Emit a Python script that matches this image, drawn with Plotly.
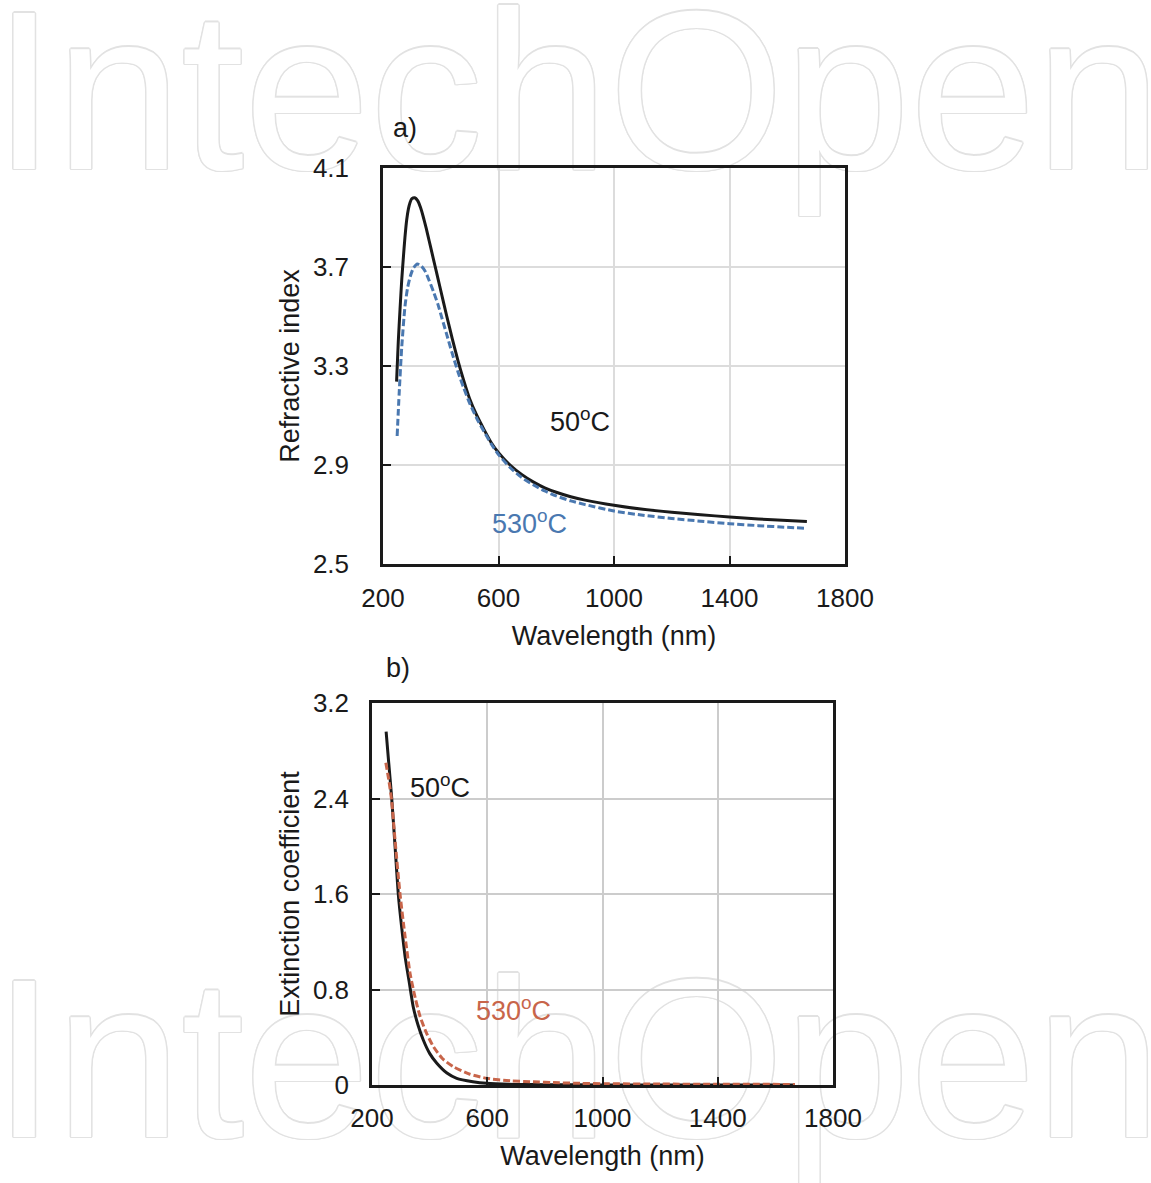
import plotly.graph_objects as go

# ---- Refractive index (a) ----
wl_n_50 = [247, 253, 259, 265, 270, 276, 282, 288, 294, 300, 310, 320, 330, 340, 350,
           360, 370, 380, 390, 400, 420, 440, 460, 480, 500, 525, 550, 575, 600, 640,
           680, 720, 760, 800, 850, 900, 1000, 1100, 1200, 1300, 1400, 1500, 1600, 1668]
n_50 = [3.237, 3.40, 3.53, 3.65, 3.73, 3.82, 3.89, 3.935, 3.962, 3.976, 3.98, 3.968,
        3.94, 3.90, 3.855, 3.805, 3.755, 3.705, 3.655, 3.605, 3.505, 3.41, 3.32, 3.24,
        3.168, 3.10, 3.043, 2.99, 2.95, 2.90, 2.862, 2.832, 2.808, 2.79, 2.772, 2.758,
        2.737, 2.721, 2.709, 2.699, 2.69, 2.682, 2.676, 2.672]

wl_n_530 = [249, 256, 265, 276, 285, 294, 305, 319, 333, 345, 360, 375, 390, 405, 420,
            440, 460, 480, 500, 525, 550, 575, 600, 640, 680, 720, 760, 800, 850, 900,
            1000, 1100, 1200, 1300, 1400, 1500, 1600, 1668]
n_530 = [3.017, 3.19, 3.378, 3.54, 3.615, 3.66, 3.695, 3.712, 3.703, 3.685, 3.645,
         3.60, 3.55, 3.49, 3.43, 3.35, 3.275, 3.21, 3.15, 3.088, 3.035, 2.985, 2.942,
         2.89, 2.85, 2.82, 2.795, 2.775, 2.755, 2.74, 2.714, 2.697, 2.684, 2.673,
         2.663, 2.655, 2.648, 2.644]

# ---- Extinction coefficient (b) ----
wl_k_50 = [249, 258, 268, 280, 291, 303, 315, 330, 343, 360, 378, 400, 425, 460, 494,
           550, 598, 700, 800, 1000, 1200, 1400, 1668]
k_50 = [2.96, 2.70, 2.415, 2.00, 1.606, 1.32, 1.075, 0.85, 0.656, 0.50, 0.377, 0.265,
        0.182, 0.10, 0.056, 0.028, 0.014, 0.005, 0.002, 0.001, 0.0, 0.0, 0.0]

wl_k_530 = [248, 258, 268, 280, 297, 315, 332, 350, 367, 390, 413, 445, 482, 540, 598,
            680, 749, 850, 922, 1000, 1200, 1400, 1668]
k_530 = [2.70, 2.56, 2.388, 2.05, 1.606, 1.24, 0.936, 0.73, 0.573, 0.43, 0.322, 0.22,
         0.154, 0.09, 0.056, 0.035, 0.028, 0.018, 0.014, 0.011, 0.008, 0.006, 0.005]

n_ticks = [2.5, 2.9, 3.3, 3.7, 4.1]
k_ticks = [0, 0.8, 1.6, 2.4, 3.2]
k_tick_text = ["0", "0.8", "1.6", "2.4", "3.2"]
wl_ticks = [200, 600, 1000, 1400, 1800]

watermark = "IntechOpen"

W, H = 1151, 1183
BLACK = "#1a1a1a"
BLUE = "#4a78b0"
RED = "#c8654a"
FONT = "Liberation Sans, Arial, Helvetica, sans-serif"

fig = go.Figure()

# Outlined watermark text on a full-page canvas drawn beneath the charts
wm_col = "#e2e2e2"
offs = [(1.5, 0), (-1.5, 0), (0, 1.5), (0, -1.5), (1, 1), (-1, -1), (1, -1), (-1, 1)]
shadow = ", ".join(f"{dx}px {dy}px 0 {wm_col}" for dx, dy in offs)
fig.add_trace(go.Scatter(
    x=[577, 577], y=[112, 1080], mode="text", text=[watermark, watermark],
    textposition="middle center", hoverinfo="skip", showlegend=False,
    cliponaxis=False,
    textfont=dict(family=FONT, size=226, color="white", shadow=shadow),
    xaxis="x", yaxis="y"))

line_kw = dict(mode="lines", line_shape="spline", showlegend=False)

# Panel a
fig.add_trace(go.Scatter(x=wl_n_50, y=n_50, line=dict(color=BLACK, width=3, smoothing=0.6),
                         xaxis="x2", yaxis="y2", **line_kw))
fig.add_trace(go.Scatter(x=wl_n_530, y=n_530,
                         line=dict(color=BLUE, width=3, dash="7px,3px", smoothing=0.6),
                         xaxis="x2", yaxis="y2", **line_kw))

# Panel b
fig.add_trace(go.Scatter(x=wl_k_50, y=k_50, line=dict(color=BLACK, width=3, smoothing=0.6),
                         xaxis="x3", yaxis="y3", **line_kw))
fig.add_trace(go.Scatter(x=wl_k_530, y=k_530,
                         line=dict(color=RED, width=3, dash="7px,3px", smoothing=0.6),
                         xaxis="x3", yaxis="y3", **line_kw))

axis_common = dict(showline=True, linecolor=BLACK, linewidth=2.5, mirror=True,
                   ticks="inside", ticklen=8, tickwidth=2, tickcolor=BLACK,
                   tickfont=dict(family=FONT, size=26, color=BLACK), zeroline=False,
                   automargin=False)
title_font = dict(family=FONT, size=27, color=BLACK)

fig.update_layout(
    width=W, height=H,
    margin=dict(l=0, r=0, t=0, b=0, autoexpand=False),
    paper_bgcolor="white", plot_bgcolor="rgba(0,0,0,0)",
    xaxis=dict(domain=[0, 1], range=[0, W], visible=False, fixedrange=True,
               automargin=False),
    yaxis=dict(domain=[0, 1], range=[H, 0], visible=False, fixedrange=True,
               automargin=False),
    xaxis2=dict(domain=[383 / W, 845 / W], range=[200, 1800], tickvals=wl_ticks,
                showgrid=True, gridcolor="#dcdcdc", gridwidth=2, anchor="y2",
                ticklabelstandoff=9,
                title=dict(text="Wavelength (nm)", font=title_font, standoff=15),
                **axis_common),
    yaxis2=dict(domain=[1 - 564 / H, 1 - 168 / H], range=[2.5, 4.1], tickvals=n_ticks,
                ticktext=[f"{v:.1f}" for v in n_ticks],
                showgrid=True, gridcolor="#dcdcdc", gridwidth=2, anchor="x2",
                ticklabelstandoff=26,
                title=dict(text="Refractive index", font=title_font, standoff=6),
                **axis_common),
    xaxis3=dict(domain=[372 / W, 833 / W], range=[200, 1800], tickvals=wl_ticks,
                showgrid=True, gridcolor="#cccccc", gridwidth=2, anchor="y3",
                ticklabelstandoff=8,
                title=dict(text="Wavelength (nm)", font=title_font, standoff=15),
                **axis_common),
    yaxis3=dict(domain=[1 - 1085 / H, 1 - 703 / H], range=[0, 3.2], tickvals=k_ticks,
                ticktext=k_tick_text,
                showgrid=True, gridcolor="#cccccc", gridwidth=2, anchor="x3",
                ticklabelstandoff=15,
                title=dict(text="Extinction coefficient", font=title_font, standoff=6),
                **axis_common),
)

ann_font = dict(family=FONT, size=27)
ann_kw = dict(showarrow=False, xanchor="center", yanchor="middle")
fig.add_annotation(x=882, y=3.082, xref="x2", yref="y2", text="50<sup>o</sup>C",
                   font=dict(color=BLACK, **ann_font), **ann_kw)
fig.add_annotation(x=709, y=2.670, xref="x2", yref="y2", text="530<sup>o</sup>C",
                   font=dict(color=BLUE, **ann_font), **ann_kw)
fig.add_annotation(x=436, y=2.505, xref="x3", yref="y3", text="50<sup>o</sup>C",
                   font=dict(color=BLACK, **ann_font), **ann_kw)
fig.add_annotation(x=690, y=0.637, xref="x3", yref="y3", text="530<sup>o</sup>C",
                   font=dict(color=RED, **ann_font), **ann_kw)

fig.add_annotation(x=405 / W, y=1 - 128 / H, xref="paper", yref="paper", text="a)",
                   font=dict(color=BLACK, **ann_font), **ann_kw)
fig.add_annotation(x=398 / W, y=1 - 668 / H, xref="paper", yref="paper", text="b)",
                   font=dict(color=BLACK, **ann_font), **ann_kw)

fig.write_html("out.html")
